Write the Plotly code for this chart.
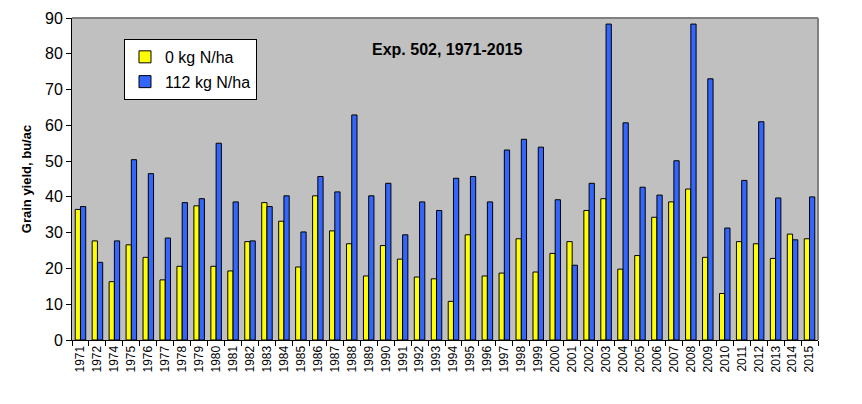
import plotly.graph_objects as go

years = ["1971", "1972", "1974", "1975", "1976", "1977", "1978", "1979", "1980", "1981",
         "1982", "1983", "1984", "1985", "1986", "1987", "1988", "1989", "1990", "1991",
         "1992", "1993", "1994", "1995", "1996", "1997", "1998", "1999", "2000", "2001",
         "2002", "2003", "2004", "2005", "2006", "2007", "2008", "2009", "2010", "2011",
         "2012", "2013", "2014", "2015"]

n0 = [36.5, 27.7, 16.3, 26.6, 23.1, 16.8, 20.6, 37.5, 20.6, 19.3,
      27.5, 38.4, 33.2, 20.4, 40.3, 30.5, 26.9, 17.9, 26.4, 22.6,
      17.6, 17.1, 10.8, 29.4, 17.9, 18.7, 28.3, 19.0, 24.2, 27.5,
      36.2, 39.5, 19.8, 23.6, 34.3, 38.6, 42.2, 23.1, 13.0, 27.5,
      26.9, 22.8, 29.6, 28.3]

n112 = [37.3, 21.7, 27.7, 50.4, 46.5, 28.5, 38.4, 39.5, 55.0, 38.6,
        27.7, 37.3, 40.3, 30.2, 45.7, 41.4, 62.9, 40.3, 43.8, 29.4,
        38.6, 36.2, 45.2, 45.7, 38.6, 53.1, 56.1, 53.9, 39.2, 20.9,
        43.8, 88.3, 60.7, 42.7, 40.5, 50.1, 88.3, 73.0, 31.3, 44.6,
        61.0, 39.7, 28.0, 40.0]

fig = go.Figure()
fig.add_trace(go.Bar(x=years, y=n0, name="0 kg N/ha", legendgroup="a",
                     marker=dict(color="#FFFF00", line=dict(color="black", width=1))))
fig.add_trace(go.Bar(x=years, y=n112, name="112 kg N/ha", legendgroup="b",
                     marker=dict(color="#3366FF", line=dict(color="black", width=1))))

fig.update_layout(
    width=862, height=404,
    margin=dict(l=72, r=44, t=10, b=64),
    paper_bgcolor="white",
    plot_bgcolor="#C0C0C0",
    barmode="group",
    bargap=0.38,
    bargroupgap=0,
    font=dict(family="Arial, Liberation Sans, sans-serif", color="black"),
    showlegend=True,
    legend=dict(x=0.0697, y=0.935, xanchor="left", yanchor="top",
                bgcolor="white", bordercolor="black", borderwidth=1,
                font=dict(size=16, color="black"), tracegroupgap=1,
                itemwidth=30, entrywidth=118, entrywidthmode="pixels"),
    xaxis=dict(type="category", tickangle=-90, tickfont=dict(size=12, color="black"),
               showline=True, linecolor="black", linewidth=1, mirror=False,
               ticks="outside", ticklen=5, tickcolor="black", tickson="boundaries",
               showgrid=False),
    yaxis=dict(range=[0, 90], dtick=10, tickfont=dict(size=16, color="black"),
               showline=True, linecolor="black", linewidth=1,
               ticks="outside", ticklen=5, tickcolor="black", showgrid=False,
               zeroline=False,
               title=dict(text="<b>Grain yield, bu/ac</b>", font=dict(size=13), standoff=10)),
    shapes=[dict(type="line", xref="paper", yref="paper", x0=0, x1=1, y0=1, y1=1,
                 line=dict(color="#808080", width=2)),
            dict(type="line", xref="paper", yref="paper", x0=1, x1=1, y0=0, y1=1,
                 line=dict(color="#808080", width=2))],
    annotations=[dict(text="<b>Exp. 502, 1971-2015</b>", xref="paper", yref="paper",
                      x=0.503, y=0.903, xanchor="center", yanchor="middle",
                      showarrow=False, font=dict(size=16, color="black"))],
)

fig.write_html("out.html")
